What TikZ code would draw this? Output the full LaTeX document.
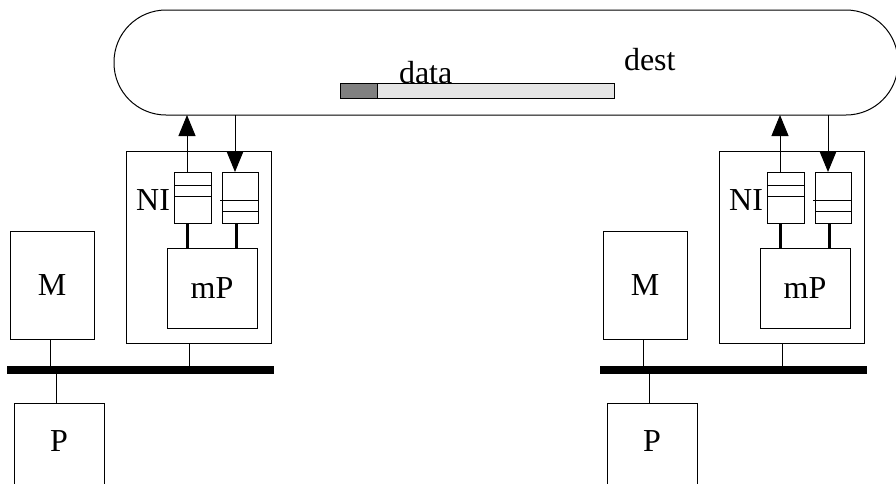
\documentclass[tikz,border=0pt]{standalone}
\usepackage{fontspec}
\setmainfont{Liberation Serif}
\usetikzlibrary{arrows.meta}
\definecolor{pkdark}{HTML}{808080}
\definecolor{pklight}{HTML}{E5E5E5}
\tikzset{
  box/.style={draw, line width=1pt, rectangle, inner sep=0pt, outer sep=0pt},
  lbl/.style={inner sep=0pt, outer sep=0pt, font=\fontsize{32}{36}\selectfont},
  thin/.style={line width=1pt},
  thick3/.style={line width=3pt},
  arr/.style={line width=1pt, -{Triangle[length=21pt, width=17pt]}},
}
\begin{document}
\begin{tikzpicture}[x=1pt,y=-1pt]
\useasboundingbox (0,0) rectangle (896,483);
\clip (0,0) rectangle (896,483);
% network cloud
\node[box, rounded corners=52pt, minimum width=784pt, minimum height=105pt] (cloud) at (506,62.5) {};
\node[box, fill=pklight, minimum width=274pt, minimum height=15pt] (pk) at (477,90.5) {};
\node[box, fill=pkdark, minimum width=37pt, minimum height=15pt, anchor=west] (pkh) at (pk.west) {};
\node[lbl, anchor=base west] (data) at (399,83) {data};
\node[lbl, anchor=base west] (dest) at (624,70) {dest};
\foreach \s/\n in {0/L,593/R}{
\begin{scope}[xshift=\s]
  \node[box, minimum width=145pt, minimum height=192pt] (nib\n) at (198.5,247) {};
  \node[box, minimum width=37pt, minimum height=51pt] (qa\n) at (192.5,197.5) {};
  \draw[thin] ([yshift=-13]qa\n.north west) -- ([yshift=-13]qa\n.north east);
  \draw[thin] ([yshift=-24]qa\n.north west) -- ([yshift=-24]qa\n.north east);
  \node[box, minimum width=36pt, minimum height=51pt] (qb\n) at (240,197.5) {};
  \draw[thin] ([xshift=-2,yshift=-28]qb\n.north west) -- ([yshift=-28]qb\n.north east);
  \draw[thin] ([yshift=-39]qb\n.north west) -- ([yshift=-39]qb\n.north east);
  \node[lbl, anchor=east] (ni\n) at ([xshift=-4,yshift=-2.5]qa\n.west) {NI};
  \node[box, minimum width=90pt, minimum height=80pt] (mp\n) at (212,288) {};
  \node[lbl] (mpt\n) at (mp\n.center) {mP};
  \node[box, minimum width=84pt, minimum height=108pt] (m\n) at (52,285) {};
  \node[lbl] (mt\n) at (m\n.center) {M};
  \node[box, fill=black, minimum width=266pt, minimum height=7pt] (bus\n) at (140,369.5) {};
  \node[box, minimum width=90pt, minimum height=86pt] (p\n) at (59,446) {};
  \node[lbl] (pt\n) at (59,441) {P};
  \draw[arr] ([xshift=-5.5]qa\n.north) -- ([xshift=-5.5]qa\n.north |- cloud.south);
  \draw[arr] ([xshift=-5]qb\n.north |- cloud.south) -- ([xshift=-5]qb\n.north);
  \draw[thick3] ([xshift=-5.5]qa\n.south) -- ([xshift=-5.5]qa\n.south |- mp\n.north);
  \draw[thick3] ([xshift=-3.5]qb\n.south) -- ([xshift=-3.5]qb\n.south |- mp\n.north);
  \draw[thin] ([xshift=-2]m\n.south) -- ([xshift=-2]m\n.south |- bus\n.north);
  \draw[thin] ([xshift=-3]p\n.north) -- ([xshift=-3]p\n.north |- bus\n.south);
  \draw[thin] ([xshift=-9.5]nib\n.south) -- ([xshift=-9.5]nib\n.south |- bus\n.north);
\end{scope}
}
\end{tikzpicture}
\end{document}
